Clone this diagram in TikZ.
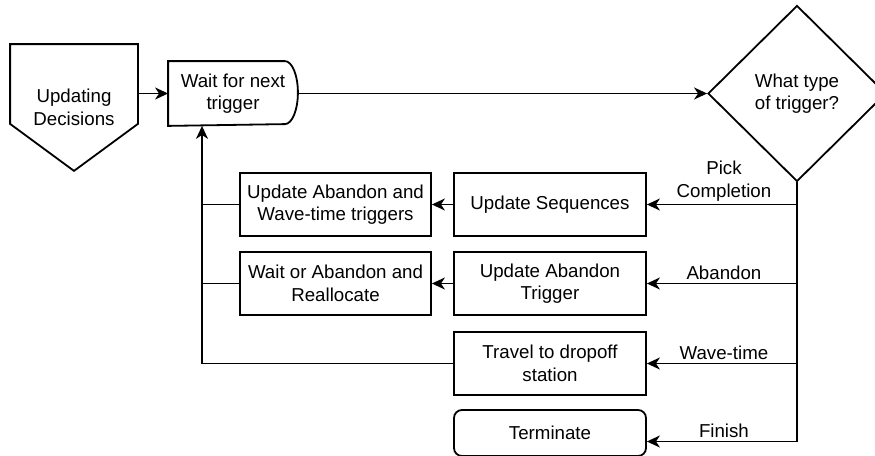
\documentclass[tikz,border=0pt]{standalone}
\usepackage{fontspec}
\setmainfont{Liberation Sans}
\usetikzlibrary{arrows.meta,shapes.geometric}

\begin{document}
\begin{tikzpicture}[x=1pt,y=-1pt,line width=1.8pt,
  every node/.style={font=\fontsize{18.7}{22.5}\selectfont, align=center, inner sep=0pt},
  box/.style={draw, minimum width=192pt, minimum height=63pt},
  arr/.style={-{Stealth[length=13pt,width=12pt,inset=4pt]}},
  lbl/.style={above=2.5pt, xshift=2pt}
]
\useasboundingbox (0,0) rectangle (875,455);

% off-page connector: start of the loop
\node[minimum width=126pt, minimum height=125pt] (dec) at (74,107.5) {Updating\\Decisions};
\draw (dec.north west) -- (dec.north east) -- ([yshift=47pt]dec.south east)
      -- (dec.south) -- ([yshift=47pt]dec.south west) -- cycle;

% delay shape: waiting state
\node[minimum width=128pt, minimum height=63pt] (wait) at (233,93.5) {Wait for next\\trigger};
\draw (wait.north west) -- ([xshift=-13pt]wait.north east)
      arc[start angle=90, end angle=-90, x radius=13pt, y radius=31.5pt]
      -- (wait.south west) -- cycle;

% decision
\node[draw, diamond, minimum width=178pt, minimum height=176pt] (q) at (797,93.5) {What type\\of trigger?};

% process boxes
\node[box] (seq)  at (550,204.5)   {Update Sequences};
\node[box, minimum width=191pt] (uawt) at (335.5,204.5) {Update Abandon and\\Wave-time triggers};
\node[box] (uat)  at (550,283.5)   {Update Abandon\\Trigger};
\node[box, minimum width=191pt] (woa)  at (335.5,283.5) {Wait or Abandon and\\Reallocate};
\node[box] (trav) at (550,363.5)   {Travel to dropoff\\station};
\node[box, rounded corners=8pt, minimum height=46pt] (term) at (550,433) {Terminate};
\coordinate (fin) at ([yshift=-8.5pt]term.east);

% main flow
\draw[arr] (dec.east |- wait.west) -- (wait.west);
\draw[arr] (wait.east) -- (q.west);

% trigger branches
\draw (q.south) -- (q.south |- fin);
\draw[arr] (q.south |- seq.east)  -- node[lbl] {Pick\\Completion} (seq.east);
\draw[arr] (q.south |- uat.east)  -- node[lbl] {Abandon} (uat.east);
\draw[arr] (q.south |- trav.east) -- node[lbl] {Wave-time} (trav.east);
\draw[arr] (q.south |- fin) -- node[lbl] {Finish} (fin);

\draw[arr] (seq.west) -- (uawt.east);
\draw[arr] (uat.west) -- (woa.east);

% return to waiting
\coordinate (ret) at (202,363.5);
\draw[arr] (trav.west) -- (ret) -- (ret |- wait.south);
\draw (uawt.west) -- (uawt.west -| ret);
\draw (woa.west) -- (woa.west -| ret);
\end{tikzpicture}
\end{document}
